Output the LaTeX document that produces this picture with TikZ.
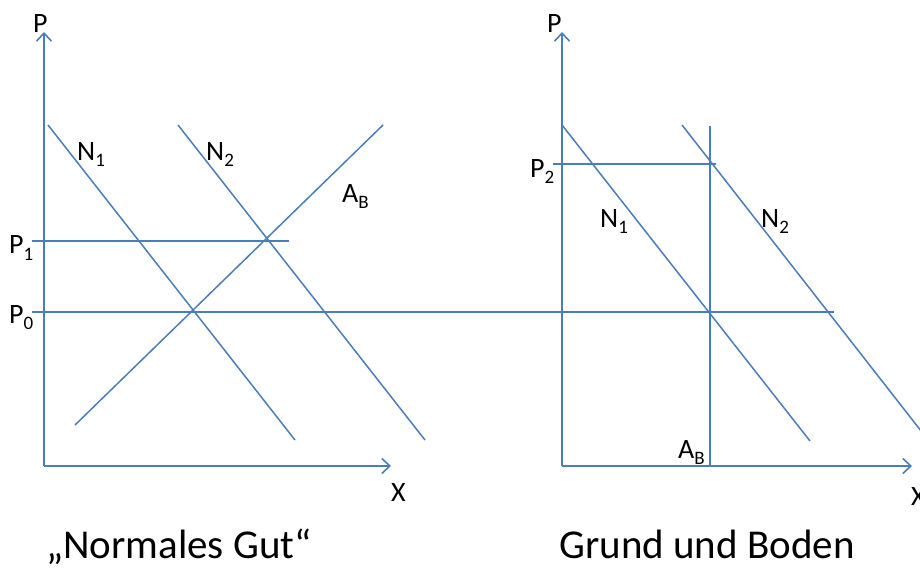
\documentclass[tikz,border=0pt]{standalone}
\usepackage{fontspec}
\setmainfont{Carlito}
\usetikzlibrary{arrows.meta}
\definecolor{lineblue}{HTML}{4A7EBB}
\newcommand{\lbsub}[1]{\raisebox{-6pt}{\fontsize{19}{19}\selectfont #1}}
\tikzset{
  curve/.style={draw=lineblue, line width=1.5pt},
  axis/.style={draw=lineblue, line width=1.8pt, -{Straight Barb[length=8pt,width=15pt,line width=1.6pt]}},
  lbl/.style={inner sep=0pt, anchor=base west, font=\fontsize{28}{28}\selectfont},
  ttl/.style={inner sep=0pt, anchor=base, font=\fontsize{41}{41}\selectfont}
}
\begin{document}
\begin{tikzpicture}[x=1pt,y=-1pt]
\useasboundingbox (0,0) rectangle (920,569);
\clip (0,0) rectangle (920,569);
% left diagram coordinates
\coordinate (lo) at (44,466);
\coordinate (ltop) at (44,32);
\coordinate (lright) at (391,466);
\coordinate (pa) at (32,241);
\coordinate (pb) at (289,241);
\coordinate (p0a) at (32,312);
\coordinate (p0b) at (834,312);
\coordinate (ln1a) at (48,125);
\coordinate (ln1b) at (295,440);
\coordinate (ln2a) at (178,125);
\coordinate (ln2b) at (425,440);
\coordinate (laba) at (75,425);
\coordinate (labb) at (383,125);
% right diagram coordinates
\coordinate (ro) at (562,466);
\coordinate (rtop) at (562,32);
\coordinate (rright) at (912,466);
\coordinate (rn1a) at (562,125);
\coordinate (rn1b) at (810,441);
\coordinate (rn2a) at (682,125);
\coordinate (rn2b) at (932,445);
\coordinate (raba) at (710,126);
\coordinate (rabb) at (710,466);
\coordinate (p2a) at (553,164);
\coordinate (p2b) at (716,164);
% lines
\draw[curve] (pa) -- (pb);
\draw[curve] (p0a) -- (p0b);
\draw[curve] (ln1a) -- (ln1b);
\draw[curve] (ln2a) -- (ln2b);
\draw[curve] (laba) -- (labb);
\draw[curve] (rn1a) -- (rn1b);
\draw[curve] (rn2a) -- (rn2b);
\draw[curve, line width=1.8pt] (raba) -- (rabb);
\draw[curve] (p2a) -- (p2b);
\draw[axis] (lo) -- (ltop);
\draw[axis] (lo) -- (lright);
\draw[axis] (ro) -- (rtop);
\draw[axis] (ro) -- (rright);
% labels
\node[lbl] (lP) at (33,33) {P};
\node[lbl] (lX) at (391,501) {X};
\node[lbl] (lP1) at (9,254) {P\lbsub{1}};
\node[lbl] (lP0) at (9,323) {P\lbsub{0}};
\node[lbl] (lN1) at (77,161) {N\lbsub{1}};
\node[lbl] (lN2) at (206,161) {N\lbsub{2}};
\node[lbl] (lAB) at (342,203) {A\lbsub{B}};
\node[lbl] (rP) at (547,33) {P};
\node[lbl] (rX) at (911,505) {X};
\node[lbl] (rP2) at (530,178) {P\lbsub{2}};
\node[lbl] (rN1) at (600,228) {N\lbsub{1}};
\node[lbl] (rN2) at (761,228) {N\lbsub{2}};
\node[lbl] (rAB) at (678,458) {A\lbsub{B}};
\node[ttl] (t1) at (179,558) {„Normales Gut“};
\node[ttl] (t2) at (707,558) {Grund und Boden};
\end{tikzpicture}
\end{document}
